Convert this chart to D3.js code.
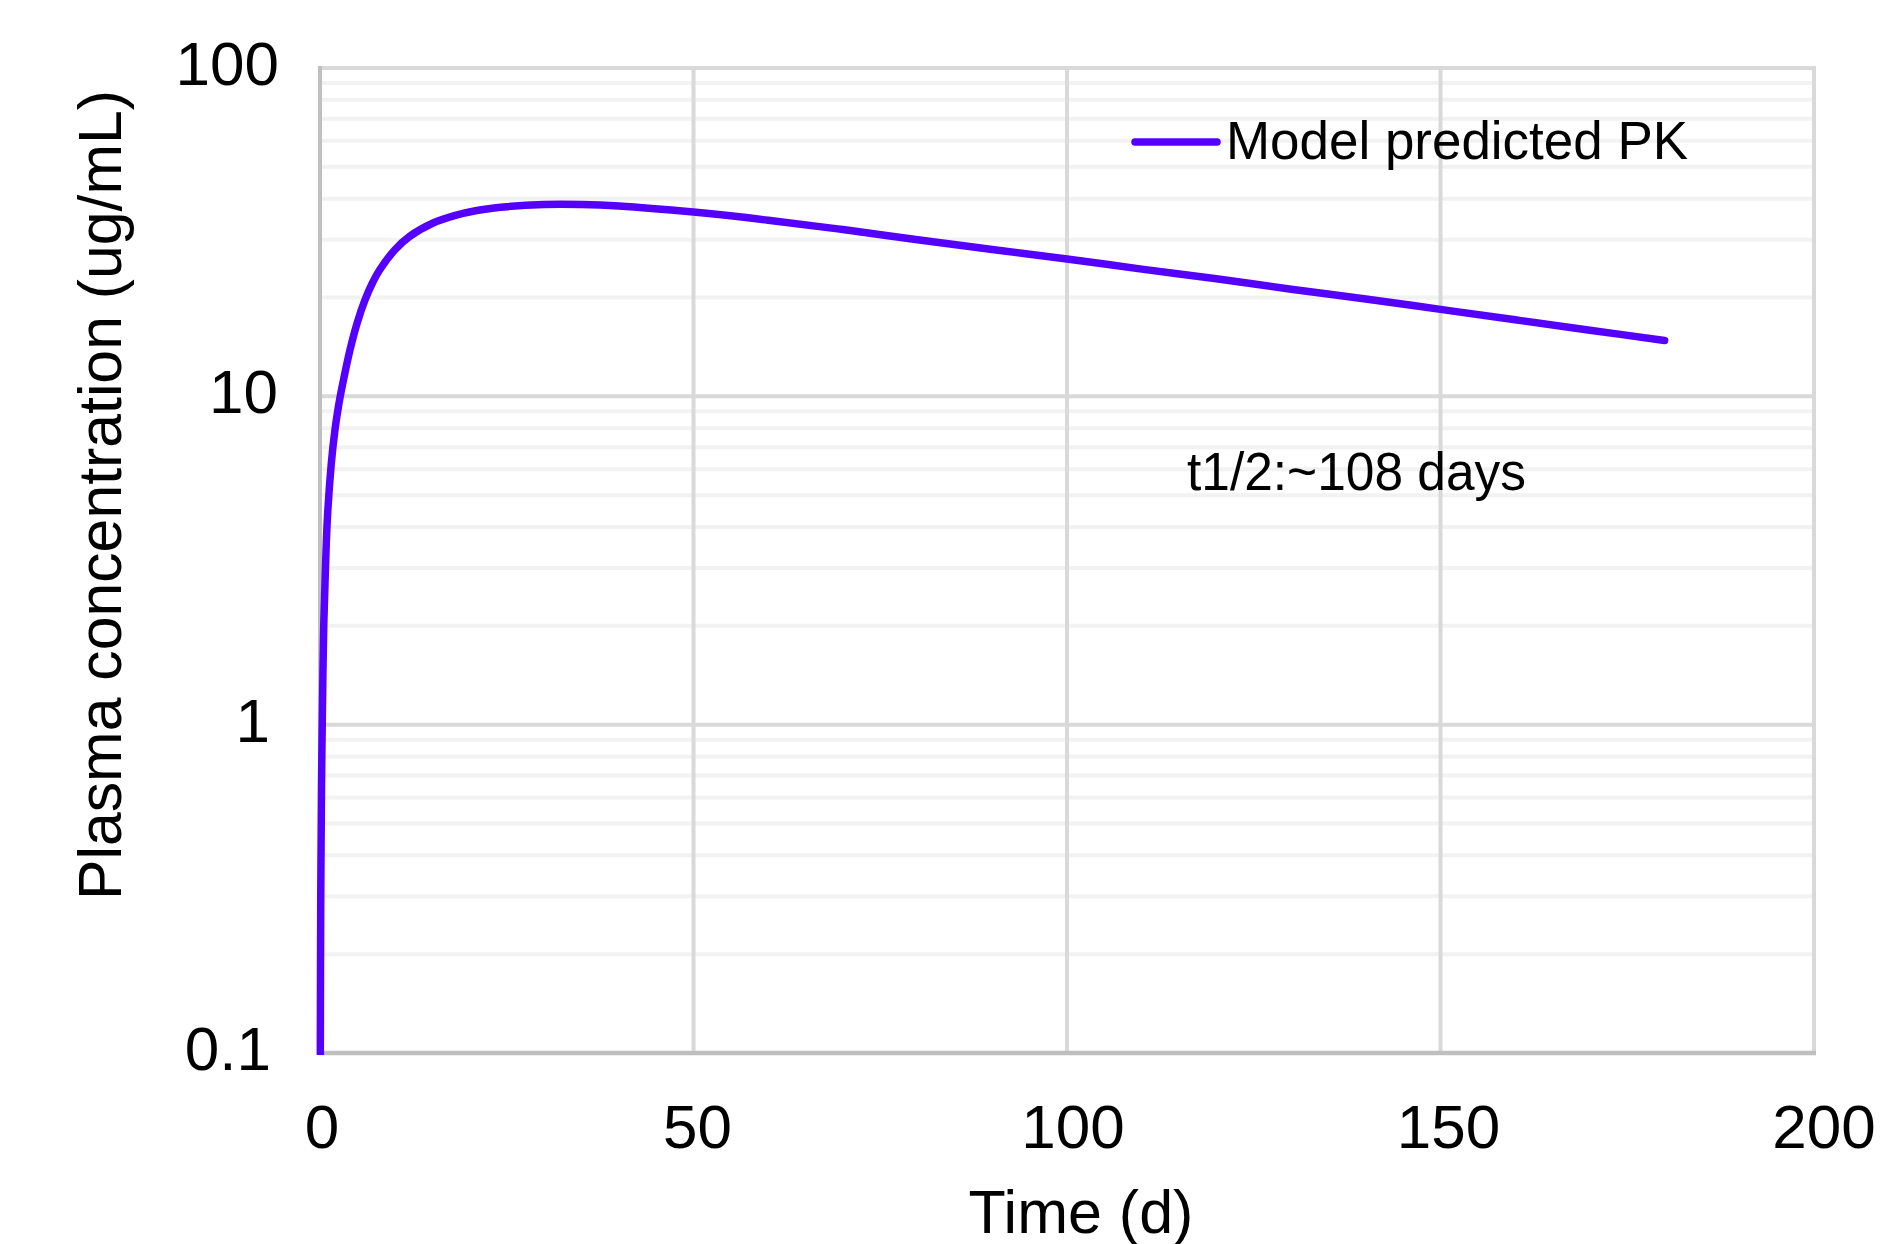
<!doctype html>
<html lang="en">
<head>
  <meta charset="utf-8">
  <title>PK plot</title>
  <style>
    * { margin: 0; padding: 0; box-sizing: border-box; }
    body { background: #fff; }
    #container { width: 1881px; height: 1244px; }
    text { font-family: "Liberation Sans", Arial, sans-serif; fill: #000; }
  </style>
</head>
<body>
  <div id="container"></div>
  <script src="https://cdn.jsdelivr.net/npm/d3@7"></script>
  <script>
    // values (time in days, conc in ug/mL)
    const time = [0.04, 0.1, 0.2, 0.3, 0.5, 0.75, 1, 1.5, 2, 2.5, 3, 4, 5, 6, 7, 8, 10, 12, 15, 18, 21, 25, 30,
      35, 40, 50, 60, 70, 80, 90, 100, 110, 120, 130, 140, 150, 160, 170, 180];
    const conc = [0.09, 0.3, 0.65, 1.0, 2.0, 3.1, 4.3, 6.2, 7.9, 9.4, 10.8, 13.8, 16.8, 19.6, 22.1, 24.3, 27.9, 30.7, 33.6, 35.5, 36.8, 37.8, 38.4,
      38.4, 38.0, 36.4, 34.4, 32.2, 30.0, 28.0, 26.2, 24.4, 22.8, 21.2, 19.8, 18.4, 17.1, 15.9, 14.8];

    const xTicks = [0, 50, 100, 150, 200];
    const yTicks = [0.1, 1, 10, 100];
    const yTickLabels = ['0.1', '1', '10', '100'];
    const seriesName = 'Model predicted PK';
    const note = 't1/2:~108 days';

    const W = 1881, H = 1244;
    const m = {l: 320, r: 1814, t: 68, b: 1053};
    const purple = '#5500ff';

    const svg = d3.select('#container').append('svg')
      .attr('width', W).attr('height', H);

    const x = d3.scaleLinear().domain([0, 200]).range([m.l, m.r]);
    const y = d3.scaleLog().domain([0.1, 100]).range([m.b, m.t]);

    // minor log gridlines
    const minor = [];
    [0.1, 1, 10].forEach(d => { for (let k = 2; k <= 9; k++) minor.push(d * k); });
    svg.append('g').selectAll('line').data(minor).enter().append('line')
      .attr('x1', m.l).attr('x2', m.r)
      .attr('y1', d => y(d)).attr('y2', d => y(d))
      .attr('stroke', '#f2f2f2').attr('stroke-width', 4);

    // major gridlines
    svg.append('g').selectAll('line').data(yTicks.slice(1)).enter().append('line')
      .attr('x1', m.l).attr('x2', m.r)
      .attr('y1', d => y(d)).attr('y2', d => y(d))
      .attr('stroke', '#d9d9d9').attr('stroke-width', 4);
    svg.append('g').selectAll('line').data(xTicks.slice(1)).enter().append('line')
      .attr('x1', d => x(d)).attr('x2', d => x(d))
      .attr('y1', m.t - 2).attr('y2', m.b)
      .attr('stroke', '#d9d9d9').attr('stroke-width', 4);

    // axes lines
    svg.append('line').attr('x1', m.l).attr('x2', m.l).attr('y1', m.t - 2).attr('y2', m.b + 2)
      .attr('stroke', '#bfbfbf').attr('stroke-width', 4);
    svg.append('line').attr('x1', m.l - 2).attr('x2', m.r + 2).attr('y1', m.b).attr('y2', m.b)
      .attr('stroke', '#bfbfbf').attr('stroke-width', 4.5);

    // tick labels
    svg.append('g').selectAll('text').data(xTicks).enter().append('text')
      .attr('x', d => x(d) + 2 + d * 0.04).attr('y', m.b + 95)
      .attr('text-anchor', 'middle').attr('font-size', 62)
      .text(d => d);
    const yLabelX = {'0.1': 271, '1': 270, '10': 278, '100': 279};
    svg.append('g').selectAll('text').data(yTicks).enter().append('text')
      .attr('x', (d, i) => yLabelX[yTickLabels[i]]).attr('y', d => y(d) + 17)
      .attr('text-anchor', 'end').attr('font-size', 62)
      .text((d, i) => yTickLabels[i]);

    // axis titles
    svg.append('text').attr('x', 1081).attr('y', 1233)
      .attr('text-anchor', 'middle').attr('font-size', 61)
      .text('Time (d)');
    svg.append('text')
      .attr('transform', 'translate(121,495) rotate(-90)')
      .attr('text-anchor', 'middle').attr('font-size', 62)
      .attr('textLength', 810).attr('lengthAdjust', 'spacingAndGlyphs')
      .text('Plasma concentration (ug/mL)');

    // series line
    svg.append('clipPath').attr('id', 'clip').append('rect')
      .attr('x', 0).attr('y', 0).attr('width', W).attr('height', m.b + 2);
    const pts = time.map((t, i) => [t, conc[i]]);
    const line = d3.line().x(d => x(d[0])).y(d => y(d[1])).curve(d3.curveCatmullRom.alpha(0.5));
    svg.append('path').datum(pts)
      .attr('clip-path', 'url(#clip)')
      .attr('d', line)
      .attr('fill', 'none').attr('stroke', purple).attr('stroke-width', 7.5)
      .attr('stroke-linecap', 'round').attr('stroke-linejoin', 'round');

    // legend
    svg.append('line').attr('x1', 1135).attr('x2', 1217).attr('y1', 142).attr('y2', 142)
      .attr('stroke', purple).attr('stroke-width', 7.5).attr('stroke-linecap', 'round');
    svg.append('text').attr('x', 1226).attr('y', 159).attr('font-size', 54)
      .attr('textLength', 462).attr('lengthAdjust', 'spacingAndGlyphs')
      .text(seriesName);

    // annotation
    svg.append('text').attr('x', 1187).attr('y', 490).attr('font-size', 53)
      .attr('textLength', 339).attr('lengthAdjust', 'spacingAndGlyphs')
      .text(note);
  </script>
</body>
</html>
